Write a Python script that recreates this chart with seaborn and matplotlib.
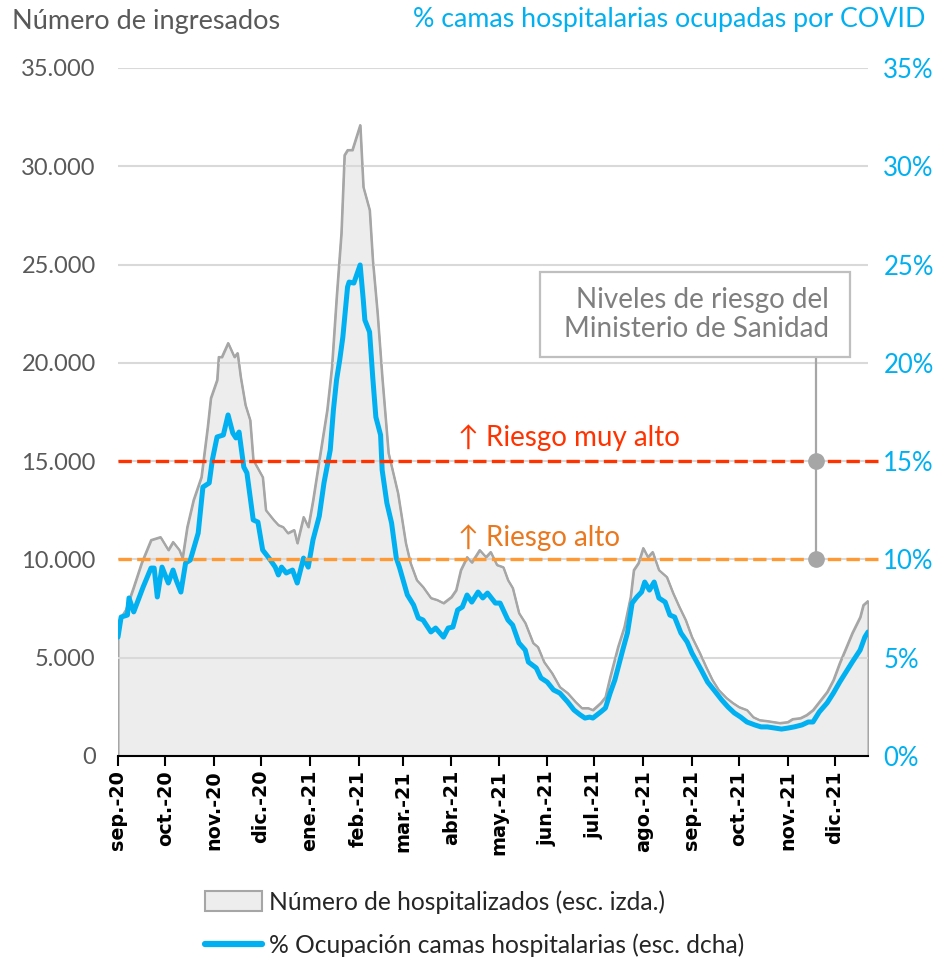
import pandas as pd
import numpy as np
import matplotlib
matplotlib.use("Agg")
import matplotlib.pyplot as plt
from matplotlib.patches import Patch, Rectangle
from matplotlib.lines import Line2D
import seaborn as sns

sns.set_style("white")
plt.rcParams['font.family'] = ['Lato', 'DejaVu Sans']

# Número de hospitalizados (escala izquierda)
hosp_dates = ['2020-09-01', '2020-09-06', '2020-09-11', '2020-09-16', '2020-09-22', '2020-09-28',
              '2020-10-03', '2020-10-06', '2020-10-10', '2020-10-12', '2020-10-15', '2020-10-19',
              '2020-10-24', '2020-10-28', '2020-10-30', '2020-11-03', '2020-11-04', '2020-11-06',
              '2020-11-10', '2020-11-14', '2020-11-16', '2020-11-18', '2020-11-21', '2020-11-24',
              '2020-11-26', '2020-12-02', '2020-12-04', '2020-12-09', '2020-12-12', '2020-12-15',
              '2020-12-18', '2020-12-22', '2020-12-24', '2020-12-28', '2020-12-31', '2021-01-03',
              '2021-01-07', '2021-01-12', '2021-01-15', '2021-01-18', '2021-01-21', '2021-01-23',
              '2021-01-25', '2021-01-28', '2021-02-02', '2021-02-04', '2021-02-08', '2021-02-10',
              '2021-02-13', '2021-02-16', '2021-02-20', '2021-02-26', '2021-03-03', '2021-03-06',
              '2021-03-10', '2021-03-14', '2021-03-19', '2021-03-23', '2021-03-27', '2021-04-01',
              '2021-04-04', '2021-04-07', '2021-04-11', '2021-04-14', '2021-04-19', '2021-04-23',
              '2021-04-26', '2021-04-30', '2021-05-04', '2021-05-07', '2021-05-10', '2021-05-14',
              '2021-05-18', '2021-05-23', '2021-05-26', '2021-05-30', '2021-06-04', '2021-06-09',
              '2021-06-14', '2021-06-19', '2021-06-23', '2021-06-27', '2021-06-30', '2021-07-05',
              '2021-07-08', '2021-07-11', '2021-07-16', '2021-07-20', '2021-07-24', '2021-07-26',
              '2021-07-29', '2021-08-01', '2021-08-04', '2021-08-07', '2021-08-11', '2021-08-16',
              '2021-08-20', '2021-08-24', '2021-08-28', '2021-09-01', '2021-09-06', '2021-09-10',
              '2021-09-14', '2021-09-18', '2021-09-23', '2021-09-27', '2021-10-01', '2021-10-06',
              '2021-10-10', '2021-10-14', '2021-10-19', '2021-10-23', '2021-10-27', '2021-11-01',
              '2021-11-04', '2021-11-09', '2021-11-13', '2021-11-17', '2021-11-21', '2021-11-26',
              '2021-11-30', '2021-12-04', '2021-12-08', '2021-12-12', '2021-12-17', '2021-12-19',
              '2021-12-22']
hosp_vals = [6800, 7430, 8600, 9820, 10990, 11140,
             10480, 10890, 10480, 10070, 11650, 13020,
             14190, 16740, 18210, 19130, 20300, 20300,
             21010, 20300, 20500, 19280, 17860, 17090,
             15060, 14190, 12510, 12010, 11750, 11650,
             11340, 11500, 10830, 12160, 11650, 13000,
             15060, 17600, 19790, 23350, 26600, 30570,
             30830, 30830, 32100, 28950, 27780, 25230,
             22540, 19280, 15410, 13380, 10830, 9820,
             8950, 8600, 8040, 7940, 7780, 8090,
             8440, 9460, 10120, 9850, 10480, 10120,
             10380, 9720, 9610, 8950, 8550, 7270,
             6770, 5750, 5550, 4780, 4220, 3510,
             3200, 2750, 2440, 2440, 2340, 2700,
             3000, 4020, 5550, 6560, 8090, 9460,
             9820, 10580, 10120, 10380, 9460, 9110,
             8290, 7580, 6920, 6050, 5240, 4530,
             3870, 3360, 2950, 2700, 2490, 2340,
             1980, 1830, 1780, 1730, 1680, 1730,
             1880, 1930, 2090, 2340, 2750, 3260,
             3870, 4730, 5490, 6260, 7070, 7680,
             7890]

# % ocupación camas hospitalarias (escala derecha)
occ_dates = ['2020-09-01', '2020-09-03', '2020-09-07', '2020-09-08', '2020-09-11', '2020-09-17',
             '2020-09-22', '2020-09-24', '2020-09-26', '2020-09-29', '2020-10-03', '2020-10-06',
             '2020-10-08', '2020-10-11', '2020-10-14', '2020-10-17', '2020-10-22', '2020-10-25',
             '2020-10-29', '2020-10-31', '2020-11-03', '2020-11-07', '2020-11-10', '2020-11-13',
             '2020-11-15', '2020-11-17', '2020-11-20', '2020-11-22', '2020-11-26', '2020-11-29',
             '2020-12-02', '2020-12-06', '2020-12-10', '2020-12-12', '2020-12-14', '2020-12-17',
             '2020-12-21', '2020-12-24', '2020-12-28', '2020-12-31', '2021-01-03', '2021-01-07',
             '2021-01-10', '2021-01-14', '2021-01-16', '2021-01-18', '2021-01-20', '2021-01-22',
             '2021-01-25', '2021-01-26', '2021-01-29', '2021-02-02', '2021-02-04', '2021-02-05',
             '2021-02-08', '2021-02-10', '2021-02-12', '2021-02-15', '2021-02-16', '2021-02-19',
             '2021-02-22', '2021-02-25', '2021-02-27', '2021-03-04', '2021-03-08', '2021-03-11',
             '2021-03-14', '2021-03-19', '2021-03-22', '2021-03-27', '2021-03-30', '2021-04-02',
             '2021-04-05', '2021-04-08', '2021-04-11', '2021-04-14', '2021-04-18', '2021-04-21',
             '2021-04-24', '2021-04-29', '2021-05-02', '2021-05-07', '2021-05-10', '2021-05-14',
             '2021-05-18', '2021-05-20', '2021-05-25', '2021-05-28', '2021-06-01', '2021-06-05',
             '2021-06-09', '2021-06-14', '2021-06-18', '2021-06-22', '2021-06-25', '2021-06-28',
             '2021-06-30', '2021-07-05', '2021-07-08', '2021-07-11', '2021-07-14', '2021-07-19',
             '2021-07-22', '2021-07-25', '2021-07-28', '2021-07-31', '2021-08-02', '2021-08-05',
             '2021-08-08', '2021-08-11', '2021-08-15', '2021-08-18', '2021-08-21', '2021-08-25',
             '2021-08-29', '2021-09-01', '2021-09-07', '2021-09-11', '2021-09-15', '2021-09-20',
             '2021-09-24', '2021-09-28', '2021-10-02', '2021-10-06', '2021-10-11', '2021-10-15',
             '2021-10-19', '2021-10-24', '2021-10-28', '2021-11-01', '2021-11-05', '2021-11-10',
             '2021-11-14', '2021-11-17', '2021-11-21', '2021-11-26', '2021-11-30', '2021-12-04',
             '2021-12-08', '2021-12-12', '2021-12-17', '2021-12-20', '2021-12-22']
occ_vals = [6.05, 7.07, 7.17, 8.04, 7.33, 8.60,
            9.56, 9.56, 8.09, 9.61, 8.80, 9.46,
            8.95, 8.34, 9.82, 9.97, 11.34, 13.68,
            13.89, 15.06, 16.23, 16.33, 17.35, 16.43,
            16.18, 16.48, 14.70, 14.40, 12.01, 11.90,
            10.48, 10.07, 9.61, 9.21, 9.61, 9.31,
            9.46, 8.80, 10.07, 9.61, 10.99, 12.20,
            13.89, 15.57, 17.60, 19.13, 20.14, 21.31,
            23.86, 24.11, 24.06, 24.98, 23.20, 22.18,
            21.57, 19.28, 17.24, 16.33, 14.55, 12.87,
            11.85, 10.07, 9.60, 8.20, 7.68, 7.02,
            6.92, 6.31, 6.51, 6.05, 6.51, 6.56,
            7.43, 7.58, 8.19, 7.83, 8.34, 8.04,
            8.29, 7.78, 7.78, 6.92, 6.66, 5.75,
            5.39, 4.78, 4.48, 3.97, 3.76, 3.36,
            3.20, 2.75, 2.34, 2.09, 1.93, 1.98,
            1.93, 2.24, 2.44, 3.20, 3.87, 5.39,
            6.26, 7.78, 8.09, 8.34, 8.85, 8.44,
            8.85, 8.04, 7.83, 7.17, 7.07, 6.26,
            5.80, 5.24, 4.37, 3.76, 3.36, 2.85,
            2.49, 2.19, 1.98, 1.73, 1.58, 1.48,
            1.48, 1.42, 1.37, 1.42, 1.48, 1.58,
            1.73, 1.73, 2.24, 2.70, 3.20, 3.76,
            4.27, 4.78, 5.39, 6.05, 6.31]

month_labels = ['sep.-20', 'oct.-20', 'nov.-20', 'dic.-20', 'ene.-21', 'feb.-21', 'mar.-21', 'abr.-21',
                'may.-21', 'jun.-21', 'jul.-21', 'ago.-21', 'sep.-21', 'oct.-21', 'nov.-21', 'dic.-21']
left_ticks = [0, 5000, 10000, 15000, 20000, 25000, 30000, 35000]
left_labels = ['0', '5.000', '10.000', '15.000', '20.000', '25.000', '30.000', '35.000']
right_ticks = [0, 5, 10, 15, 20, 25, 30, 35]
right_labels = ['0%', '5%', '10%', '15%', '20%', '25%', '30%', '35%']

risk_high = 10
risk_very_high = 15

hosp = pd.DataFrame({'fecha': pd.to_datetime(hosp_dates), 'hosp': hosp_vals})
occ = pd.DataFrame({'fecha': pd.to_datetime(occ_dates), 'pct': occ_vals})
month_starts = pd.date_range('2020-09-01', periods=len(month_labels), freq='MS')

blue = '#00B0F0'
red = '#FF3300'
orange = '#FF9933'
grey_txt = '#595959'

fig = plt.figure(figsize=(9.45, 9.66), dpi=100)
ax = fig.add_axes([118 / 945, 1 - 756 / 966, 750 / 945, 688 / 966])

# area de hospitalizados
ax.fill_between(hosp['fecha'], hosp['hosp'], color='#EDEDED', edgecolor='#A6A6A6', linewidth=1.5, zorder=1)
sns.lineplot(data=hosp, x='fecha', y='hosp', ax=ax, color='#A6A6A6', linewidth=1.5, zorder=3)

ax.set_xlim(pd.Timestamp('2020-09-01'), pd.Timestamp('2021-12-22'))
ax.set_ylim(0, 35000)
ax.set_yticks(left_ticks)
ax.set_yticklabels(left_labels)
ax.grid(axis='y', color='#D9D9D9', linewidth=1.5)
ax.grid(axis='x', visible=False)
ax.set_axisbelow(False)
ax.set_xlabel('')
ax.set_ylabel('')

ax.set_xticks(month_starts)
ax.set_xticklabels(month_labels, rotation=90, fontweight='bold', fontsize=13.8, family='DejaVu Sans')
ax.tick_params(axis='x', bottom=True, length=7, width=1.5, color='black', pad=3, labelcolor='black')
ax.tick_params(axis='y', left=False, length=0, pad=16, labelsize=17, labelcolor=grey_txt)

for s in ['top', 'left', 'right']:
    ax.spines[s].set_visible(False)
ax.spines['bottom'].set_color('black')
ax.spines['bottom'].set_linewidth(1.5)
ax.spines['bottom'].set_zorder(5)

# eje derecho: % ocupación
ax2 = ax.twinx()
sns.lineplot(data=occ, x='fecha', y='pct', ax=ax2, color=blue, linewidth=3.6, zorder=3)
ax2.set_ylim(0, 35)
ax2.set_yticks(right_ticks)
ax2.set_yticklabels(right_labels)
ax2.tick_params(axis='y', right=False, length=0, pad=11, labelsize=18.5, labelcolor=blue)
ax2.set_xlabel('')
ax2.set_ylabel('')
ax2.grid(False)
for s in ['top', 'left', 'right', 'bottom']:
    ax2.spines[s].set_visible(False)

# niveles de riesgo
ax2.axhline(risk_very_high, xmin=0, xmax=1.013, color=red, linewidth=2.4, linestyle=(0, (4, 1.6)),
            clip_on=False, zorder=4)
ax2.axhline(risk_high, xmin=0, xmax=1.013, color=orange, linewidth=2.4, linestyle=(0, (4, 1.6)),
            clip_on=False, zorder=4)
ax2.text(pd.Timestamp('2021-04-05'), 16.2, '↑ Riesgo muy alto', color=red, fontsize=20,
         ha='left', va='center')
ax2.text(pd.Timestamp('2021-04-05'), 11.1, '↑ Riesgo alto', color='#E9781E', fontsize=20,
         ha='left', va='center')

mark_x = pd.Timestamp('2021-11-19')
ax2.plot([mark_x, mark_x], [risk_high, 20.3], color='#A6A6A6', linewidth=1.6, zorder=5)
ax2.plot([mark_x, mark_x], [risk_very_high, risk_high], 'o', color='#A6A6A6', markersize=11, zorder=6)

box = Rectangle((0.5627, 0.580), 0.4133, 0.1235, transform=ax2.transAxes, facecolor='white',
                edgecolor='#BFBFBF', linewidth=1.6, zorder=5, clip_on=False)
ax2.add_patch(box)
ax2.text(0.948, 0.6415, 'Niveles de riesgo del\nMinisterio de Sanidad', transform=ax2.transAxes,
         ha='right', va='center', multialignment='right', fontsize=20, color='#7F7F7F',
         linespacing=1.12, zorder=6)

# titulos de los ejes
fig.text(12 / 945, 1 - 22 / 966, 'Número de ingresados', fontsize=19.5, color=grey_txt, ha='left', va='center')
fig.text(925 / 945, 1 - 20 / 966, '% camas hospitalarias ocupadas por COVID', fontsize=19.3, color=blue,
         ha='right', va='center')

handles = [Patch(facecolor='#EDEDED', edgecolor='#A6A6A6', linewidth=1.5),
           Line2D([], [], color=blue, linewidth=4.5)]
labels = ['Número de hospitalizados (esc. izda.)', '% Ocupación camas hospitalarias (esc. dcha)']
fig.legend(handles, labels, loc='upper left', bbox_to_anchor=(205 / 945, 1 - 890 / 966), frameon=False,
           fontsize=17.7, handlelength=2.3, handleheight=0.85, handletextpad=0.3, labelspacing=0.8,
           borderpad=0, borderaxespad=0, labelcolor='#262626')

fig.savefig('out.png', dpi=100)
